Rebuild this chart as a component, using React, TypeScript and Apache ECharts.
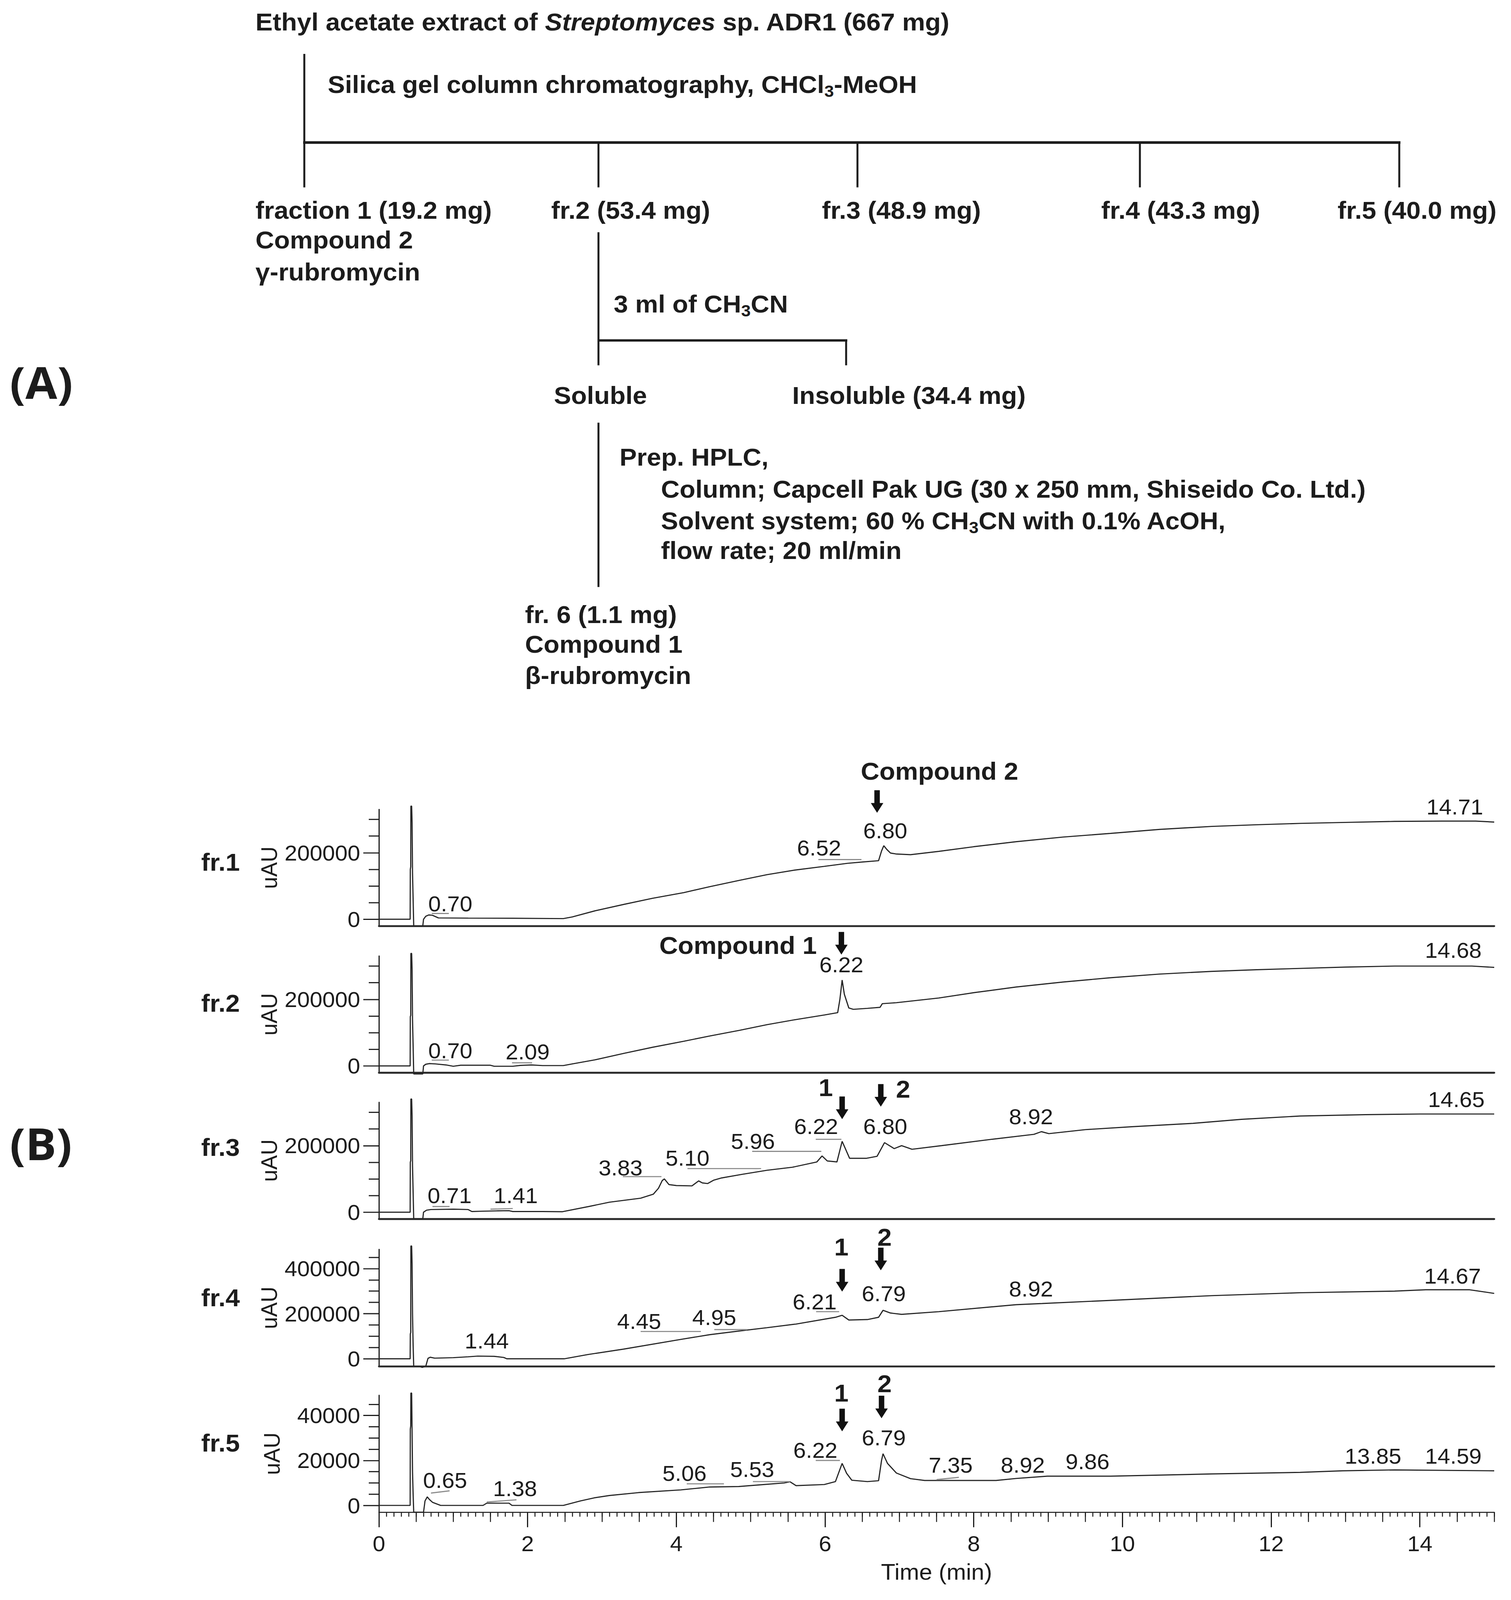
import React, { useEffect, useRef } from 'react';
import * as echarts from 'echarts';

const W = 3868;
const H = 4244;
const FONT = 'Liberation Sans, Arial, Helvetica, sans-serif';
const INK = '#1c1c1c';
const MARK = '#8c8c8c';

// ---------- data ----------
const timeMajorTicks = [0, 2, 4, 6, 8, 10, 12, 14];
const fractionNames = ['fr.1', 'fr.2', 'fr.3', 'fr.4', 'fr.5'];

const yMajor123 = [0, 200000];
const yMinor123 = [50000, 100000, 150000, 250000, 300000];
const yMajor4 = [0, 200000, 400000];
const yMinor4 = [50000, 100000, 150000, 250000, 300000, 350000, 450000];
const yMajor5 = [0, 20000, 40000];
const yMinor5 = [5000, 10000, 15000, 25000, 30000, 35000, 45000];
const yMins = [-20000, -20000, -20000, -33000, -3000];
const yMaxs = [330000, 330000, 330000, 485000, 49000];

const fr1Trace = [
  [0, 0], [0.4, 0], [0.42, 0], [0.422, 150000], [0.428, 158000], [0.43, 340000], [0.44, 340000], [0.446, 290000],
  [0.452, 140000], [0.46, 60000], [0.468, -20000], [0.59, -20000], [0.6, 0], [0.63, 9000], [0.67, 13000], [0.72, 12000],
  [0.8, 4000], [1.2, 3500], [1.8, 3000], [2.48, 2000], [2.6, 7000], [2.9, 25000], [3.3, 45000], [3.68, 63000],
  [4.1, 80000], [4.45, 98000], [4.85, 117000], [5.22, 134000], [5.6, 148000], [5.99, 159000], [6.3, 168000],
  [6.5, 172000], [6.72, 176000], [6.76, 205000], [6.79, 221000], [6.83, 210000], [6.88, 199000], [6.96, 196000],
  [7.15, 194000], [7.53, 204000], [8.0, 218000], [8.57, 233000], [9.2, 247000], [9.84, 258000], [10.5, 270000],
  [11.2, 279000], [11.8, 284000], [12.39, 288000], [13.0, 291000], [13.66, 294000], [14.3, 295000], [14.75, 295000],
  [15, 292000],
];
const fr2Trace = [
  [0, 0], [0.4, 0], [0.42, 0], [0.422, 148000], [0.428, 152000], [0.43, 338000], [0.44, 338000], [0.446, 290000],
  [0.452, 140000], [0.46, 60000], [0.468, -24000], [0.59, -24000], [0.6, 0], [0.63, 5000], [0.68, 7000], [0.76, 6000],
  [0.9, 3000], [1.0, -1000], [1.1, 2000], [1.5, 2000], [1.55, -1000], [1.8, -1000], [1.9, 1500], [2.05, 3000],
  [2.2, 1000], [2.48, 1000], [2.6, 6000], [2.9, 18000], [3.3, 38000], [3.68, 56000], [4.1, 74000], [4.45, 90000],
  [4.85, 107000], [5.22, 124000], [5.6, 139000], [5.99, 153000], [6.17, 160000], [6.2, 200000], [6.23, 258000],
  [6.26, 215000], [6.32, 174000], [6.38, 170000], [6.57, 173000], [6.74, 176000], [6.77, 187000], [6.96, 190000],
  [7.53, 204000], [8.0, 220000], [8.57, 237000], [9.2, 252000], [9.84, 265000], [10.5, 276000], [11.2, 284000],
  [11.8, 289000], [12.39, 293000], [13.0, 297000], [13.66, 300000], [14.7, 300000], [15, 296000],
];
const fr3Trace = [
  [0, 0], [0.4, 0], [0.42, 0], [0.422, 150000], [0.428, 155000], [0.43, 340000], [0.44, 340000], [0.446, 290000],
  [0.452, 140000], [0.46, 60000], [0.468, -20000], [0.59, -20000], [0.6, 0], [0.64, 6000], [0.7, 8000], [1.0, 9000],
  [1.2, 8000], [1.25, 2000], [1.4, 3000], [1.6, 4000], [1.75, 4500], [1.8, 2000], [2.2, 2000], [2.47, 1500],
  [2.82, 17000], [3.1, 30000], [3.52, 42000], [3.69, 54000], [3.76, 72000], [3.81, 95000], [3.84, 100000],
  [3.9, 83000], [4.0, 80000], [4.21, 79000], [4.3, 94000], [4.35, 88000], [4.42, 86000], [4.5, 96000],
  [4.61, 103000], [4.89, 114000], [5.22, 126000], [5.56, 135000], [5.89, 151000], [5.96, 169000], [6.03, 154000],
  [6.16, 151000], [6.23, 213000], [6.33, 162000], [6.56, 162000], [6.7, 168000], [6.8, 209000], [6.93, 191000],
  [7.03, 200000], [7.17, 189000], [7.57, 200000], [8.24, 219000], [8.81, 234000], [8.91, 242000], [9.01, 236000],
  [9.5, 248000], [10.14, 257000], [10.95, 267000], [11.6, 279000], [12.39, 289000], [13.27, 293000], [14.0, 295000],
  [15, 295000],
];
const fr4Trace = [
  [0, 0], [0.4, 0], [0.42, 0], [0.422, 110000], [0.428, 117000], [0.43, 500000], [0.44, 500000], [0.446, 420000],
  [0.452, 200000], [0.46, 60000], [0.468, -33000], [0.55, -33000], [0.58, -38000], [0.63, -33000], [0.66, 2000],
  [0.69, 7000], [0.75, 3000], [1.0, 5000], [1.2, 9000], [1.33, 12000], [1.55, 11000], [1.68, 6000], [1.72, 0],
  [2.2, 0], [2.49, 0], [2.81, 19000], [3.29, 43000], [4.06, 86000], [4.45, 107000], [4.84, 123000], [5.22, 138000],
  [5.61, 154000], [6.14, 184000], [6.23, 193000], [6.32, 172000], [6.57, 174000], [6.72, 184000], [6.78, 215000],
  [6.88, 203000], [7.03, 197000], [7.53, 209000], [8.57, 240000], [8.92, 245000], [9.84, 259000], [11.2, 280000],
  [12.39, 293000], [13.66, 300000], [14.08, 306000], [14.67, 306000], [15, 290000],
];
const fr5Trace = [
  [0, 0], [0.4, 0], [0.42, 0], [0.422, 34000], [0.428, 35400], [0.43, 50000], [0.44, 50000], [0.446, 33000],
  [0.452, 15000], [0.46, 5000], [0.468, -3000], [0.6, -3000], [0.62, 2000], [0.65, 3800], [0.68, 2600],
  [0.72, 1400], [0.83, 0], [1.4, 0], [1.45, 1000], [1.75, 1000], [1.79, 0], [2.48, 0], [2.71, 2000], [2.9, 3400],
  [3.1, 4400], [3.49, 5700], [4.06, 6900], [4.45, 8200], [4.84, 8400], [5.22, 9400], [5.45, 10000], [5.53, 10500],
  [5.61, 8800], [5.99, 9300], [6.14, 10600], [6.23, 18700], [6.29, 14300], [6.36, 11200], [6.57, 10600],
  [6.72, 11000], [6.76, 20000], [6.78, 23000], [6.84, 18700], [6.96, 14400], [7.15, 11900], [7.34, 11100],
  [8.3, 11100], [8.57, 12000], [8.99, 13000], [9.84, 13000], [11.2, 14000], [12.39, 14700], [12.96, 15400],
  [13.66, 15800], [15, 15400],
];

// peak labels: [time, uAU, text]
const fr1Peaks: [number, number, string][] = [[0.96, 46800, '0.70'], [5.92, 214500, '6.52'], [6.81, 266600, '6.80'], [14.47, 337900, '14.71']];
const fr2Peaks: [number, number, string][] = [[0.96, 46800, '0.70'], [2.0, 42300, '2.09'], [6.22, 304000, '6.22'], [14.45, 348100, '14.68']];
const fr3Peaks: [number, number, string][] = [
  [0.95, 50200, '0.71'], [1.84, 50200, '1.41'], [3.25, 134000, '3.83'], [4.15, 163500, '5.10'], [5.03, 213300, '5.96'],
  [5.88, 257500, '6.22'], [6.81, 257500, '6.80'], [8.77, 287000, '8.92'], [14.49, 339100, '14.65'],
];
const fr4Peaks: [number, number, string][] = [
  [1.45, 80600, '1.44'], [3.5, 165800, '4.45'], [4.51, 184200, '4.95'], [5.86, 252700, '6.21'], [6.79, 289500, '6.79'],
  [8.77, 309600, '8.92'], [14.44, 368000, '14.67'],
];
const fr5Peaks: [number, number, string][] = [
  [0.89, 11250, '0.65'], [1.83, 7570, '1.38'], [4.11, 14270, '5.06'], [5.02, 16120, '5.53'], [5.87, 24670, '6.22'],
  [6.79, 30200, '6.79'], [7.69, 18000, '7.35'], [8.66, 18000, '8.92'], [9.53, 19500, '9.86'], [13.37, 22000, '13.85'],
  [14.45, 22000, '14.59'],
];
// integration markers under the peak labels: [t1, uAU1, t2, uAU2]
const fr1Marks = [[0.71, 17400, 0.94, 17400], [5.91, 179400, 6.49, 179400]];
const fr2Marks = [[0.71, 17400, 0.94, 17400], [1.79, 9400, 2.06, 9400]];
const fr3Marks = [
  [0.72, 17000, 0.95, 17000], [1.5, 9000, 1.8, 11000], [3.28, 106900, 3.8, 106900], [4.15, 131000, 5.14, 131000],
  [5.02, 182700, 5.95, 182700], [5.875, 219000, 6.22, 219000],
];
const fr4Marks = [[3.52, 121000, 4.33, 121000], [4.51, 129600, 4.95, 129600], [5.88, 209000, 6.19, 209000]];
const fr5Marks = [
  [0.7, 5500, 0.95, 6500], [1.45, 1500, 1.85, 2500], [4.14, 9600, 4.64, 9600], [5.03, 10600, 5.53, 10600],
  [5.875, 20000, 6.2, 20000], [7.5, 11500, 7.8, 12500],
];
// arrows: [time, uAU of arrow centre]
const fr1Arrows = [[6.7, 353800]];
const fr2Arrows = [[6.22, 368500]];
const fr3Arrows = [[6.23, 313600], [6.75, 351000]];
const fr4Arrows = [[6.23, 348000], [6.75, 442400]];
const fr5Arrows = [[6.23, 38000], [6.76, 43800]];
// compound tags: [time, uAU, text]
const fr1Tags: [number, number, string][] = [[7.54, 445500, 'Compound 2']];
const fr2Tags: [number, number, string][] = [[4.83, 362900, 'Compound 1']];
const fr3Tags: [number, number, string][] = [[6.01, 374200, '1'], [7.05, 369700, '2']];
const fr4Tags: [number, number, string][] = [[6.22, 496700, '1'], [6.8, 540200, '2']];
const fr5Tags: [number, number, string][] = [[6.22, 50000, '1'], [6.8, 54200, '2']];

const traces = [fr1Trace, fr2Trace, fr3Trace, fr4Trace, fr5Trace];
const peaks = [fr1Peaks, fr2Peaks, fr3Peaks, fr4Peaks, fr5Peaks];
const marks = [fr1Marks, fr2Marks, fr3Marks, fr4Marks, fr5Marks];
const arrows = [fr1Arrows, fr2Arrows, fr3Arrows, fr4Arrows, fr5Arrows];
const tags = [fr1Tags, fr2Tags, fr3Tags, fr4Tags, fr5Tags];
const majors = [yMajor123, yMajor123, yMajor123, yMajor4, yMajor5];
const minors = [yMinor123, yMinor123, yMinor123, yMinor4, yMinor5];

// ---------- layout ----------
const GRID_LEFT = 970;
const GRID_WIDTH = 2855;
const gridTops = [2147, 2536, 2924, 3314, 3701];
const gridHeights = [309, 309, 309, 310, 310];
const frLabelY = [2287, 2661, 3043, 3442, 3827];

const RICH = {
  it: { fontSize: 66, fontWeight: 'bold', fontStyle: 'italic', fontFamily: FONT, fill: INK },
  sub: { fontSize: 44, fontWeight: 'bold', fontFamily: FONT, fill: INK, verticalAlign: 'bottom', lineHeight: 44 },
};

function txt(x: number, y: number, text: string, extra: any = {}) {
  return {
    type: 'text', x, y, z: 10,
    style: {
      text, fontSize: 66, fontWeight: 'bold', fontFamily: FONT, fill: INK,
      align: 'left', verticalAlign: 'middle', rich: RICH, lineHeight: 80, ...extra,
    },
  };
}
function seg(x1: number, y1: number, x2: number, y2: number, w = 5) {
  return { type: 'line', z: 10, shape: { x1, y1, x2, y2 }, style: { stroke: INK, lineWidth: w } };
}

function partAGraphics() {
  return [
    txt(654, 58, 'Ethyl acetate extract of {it|Streptomyces} sp. ADR1 (667 mg)'),
    seg(779, 143, 779, 497),
    txt(839, 224, 'Silica gel column chromatography, CHCl{sub|3}-MeOH'),
    seg(776, 378, 3585, 378, 7),
    seg(1532, 378, 1532, 497),
    seg(2195, 378, 2195, 497),
    seg(2918, 378, 2918, 497),
    seg(3582, 378, 3582, 497),
    txt(654, 557, 'fraction 1 (19.2 mg)'),
    txt(1411, 557, 'fr.2 (53.4 mg)'),
    txt(2104, 557, 'fr.3 (48.9 mg)'),
    txt(2819, 557, 'fr.4 (43.3 mg)'),
    txt(3424, 557, 'fr.5 (40.0 mg)'),
    txt(654, 636, 'Compound 2'),
    txt(654, 721, 'γ-rubromycin'),
    seg(1532, 616, 1532, 969),
    txt(1571, 806, '3 ml of CH{sub|3}CN'),
    seg(1532, 903, 2169, 903, 6),
    seg(2166, 903, 2166, 969),
    txt(1418, 1048, 'Soluble'),
    txt(2028, 1048, 'Insoluble (34.4 mg)'),
    seg(1532, 1121, 1532, 1557),
    txt(1586, 1212, 'Prep. HPLC,'),
    txt(1692, 1297, 'Column; Capcell Pak UG (30 x 250 mm, Shiseido Co. Ltd.)'),
    txt(1692, 1381, 'Solvent system; 60 % CH{sub|3}CN with 0.1% AcOH,'),
    txt(1692, 1460, 'flow rate; 20 ml/min'),
    txt(1344, 1630, 'fr. 6 (1.1 mg)'),
    txt(1344, 1708, 'Compound 1'),
    txt(1344, 1791, 'β-rubromycin'),
    txt(25, 1012, '(A)', { fontSize: 118, fontFamily: 'Open Sans, Liberation Sans, sans-serif' }),
    txt(25, 3032, '(B)', { fontSize: 118, fontFamily: 'Open Sans, Liberation Sans, sans-serif' }),
    ...fractionNames.map((n, i) => txt(515, frLabelY[i], n)),
  ];
}

function buildOption() {
  const grid: any[] = [];
  const xAxis: any[] = [];
  const yAxis: any[] = [];
  const series: any[] = [];
  const fmt = (v: number) => String(v);
  for (let i = 0; i < 5; i++) {
    const last = i === 4;
    grid.push({ left: GRID_LEFT, width: GRID_WIDTH, top: gridTops[i], height: gridHeights[i] });
    xAxis.push({
      type: 'value', gridIndex: i, min: 0, max: 15, position: 'bottom',
      axisLine: { show: true, onZero: false, lineStyle: { color: '#2a2a2a', width: last ? 3 : 5 } },
      axisTick: last ? { show: true, customValues: timeMajorTicks, length: 40, lineStyle: { color: INK, width: 3 } } : { show: false },
      axisLabel: last
        ? { show: true, customValues: timeMajorTicks, formatter: fmt, fontSize: 58, color: INK, fontFamily: FONT, margin: 54 }
        : { show: false },
      splitLine: { show: false },
      name: last ? 'Time (min)' : '',
      nameLocation: 'middle', nameGap: 128,
      nameTextStyle: { fontSize: 60, color: INK, fontFamily: FONT },
    });
    yAxis.push({
      type: 'value', gridIndex: i, min: yMins[i], max: yMaxs[i], position: 'left',
      axisLine: { show: true, onZero: false, lineStyle: { color: INK, width: 3 } },
      axisTick: { show: true, customValues: majors[i], length: 40, lineStyle: { color: INK, width: 3 } },
      axisLabel: { show: true, customValues: majors[i], formatter: fmt, fontSize: 58, color: INK, fontFamily: FONT, margin: 48 },
      splitLine: { show: false },
      name: 'uAU', nameLocation: 'middle', nameRotate: 90, nameGap: 245,
      nameTextStyle: { fontSize: 58, color: INK, fontFamily: FONT },
    });
    yAxis.push({
      type: 'value', gridIndex: i, min: yMins[i], max: yMaxs[i], position: 'left',
      axisLine: { show: false, onZero: false },
      axisTick: { show: true, customValues: minors[i], length: 26, lineStyle: { color: INK, width: 3 } },
      axisLabel: { show: false },
      splitLine: { show: false },
    });
    series.push({
      type: 'line', xAxisIndex: i, yAxisIndex: 2 * i, data: traces[i], symbol: 'none', showSymbol: false,
      clip: false, silent: true, lineStyle: { color: '#262626', width: 3 }, z: 3,
    });
  }
  // medium and small time ticks of the bottom panel
  xAxis.push({
    type: 'value', gridIndex: 4, min: 0, max: 15, interval: 0.5, position: 'bottom',
    axisLine: { show: false, onZero: false },
    axisTick: { show: true, length: 26, lineStyle: { color: INK, width: 2.5 } },
    axisLabel: { show: false }, splitLine: { show: false },
  });
  xAxis.push({
    type: 'value', gridIndex: 4, min: 0, max: 15, interval: 0.1, position: 'bottom',
    axisLine: { show: false, onZero: false },
    axisTick: { show: true, length: 12, lineStyle: { color: INK, width: 2.5 } },
    axisLabel: { show: false }, splitLine: { show: false },
  });
  return { animation: false, backgroundColor: '#ffffff', grid, xAxis, yAxis, series };
}

function annotationGraphics(chart: any) {
  const out: any[] = [];
  for (let i = 0; i < 5; i++) {
    const toPx = (t: number, v: number) => chart.convertToPixel({ seriesIndex: i }, [t, v]);
    for (const [t1, v1, t2, v2] of marks[i]) {
      const [x1, y1] = toPx(t1, v1);
      const [x2, y2] = toPx(t2, v2);
      out.push({ type: 'line', z: 4, shape: { x1, y1, x2, y2 }, style: { stroke: MARK, lineWidth: 3 } });
    }
    for (const [t, v, s] of peaks[i]) {
      const [px, py] = toPx(t, v);
      out.push({
        type: 'text', x: px, y: py, z: 10,
        style: { text: s, fontSize: 58, fontFamily: FONT, fill: INK, align: 'center', verticalAlign: 'middle' },
      });
    }
    for (const [t, v, s] of tags[i]) {
      const [px, py] = toPx(t, v);
      out.push({
        type: 'text', x: px, y: py, z: 10,
        style: { text: s, fontSize: 66, fontWeight: 'bold', fontFamily: FONT, fill: INK, align: 'center', verticalAlign: 'middle' },
      });
    }
    for (const [t, v] of arrows[i]) {
      const [px, py] = toPx(t, v);
      out.push({
        type: 'polygon', x: px, y: py, z: 10,
        shape: { points: [[-7, -30], [7, -30], [7, 4], [16, 4], [0, 30], [-16, 4], [-7, 4]] },
        style: { fill: '#111111' },
      });
    }
  }
  return out;
}

export default function App() {
  const ref = useRef<HTMLDivElement>(null);
  useEffect(() => {
    const el = ref.current;
    if (!el) return;
    // fit the full figure into the visible viewport
    document.documentElement.style.overflow = 'hidden';
    document.body.style.overflow = 'hidden';
    const vw = window.innerWidth;
    const vh = window.innerHeight;
    if (vw > 0 && vh > 0) {
      const sx = Math.min(1, vw / W);
      const sy = Math.min(1, vh / H);
      el.style.transformOrigin = '0 0';
      el.style.transform = `scale(${sx}, ${sy})`;
    }
    const chart = echarts.init(el, null, { renderer: 'svg', width: W, height: H });
    chart.setOption(buildOption() as any);
    chart.setOption({ graphic: { elements: [...partAGraphics(), ...annotationGraphics(chart)] } } as any);
    return () => chart.dispose();
  }, []);
  return (
    <div
      ref={ref}
      style={{ position: 'absolute', left: 0, top: 0, width: W, height: H, background: '#ffffff' }}
    />
  );
}
